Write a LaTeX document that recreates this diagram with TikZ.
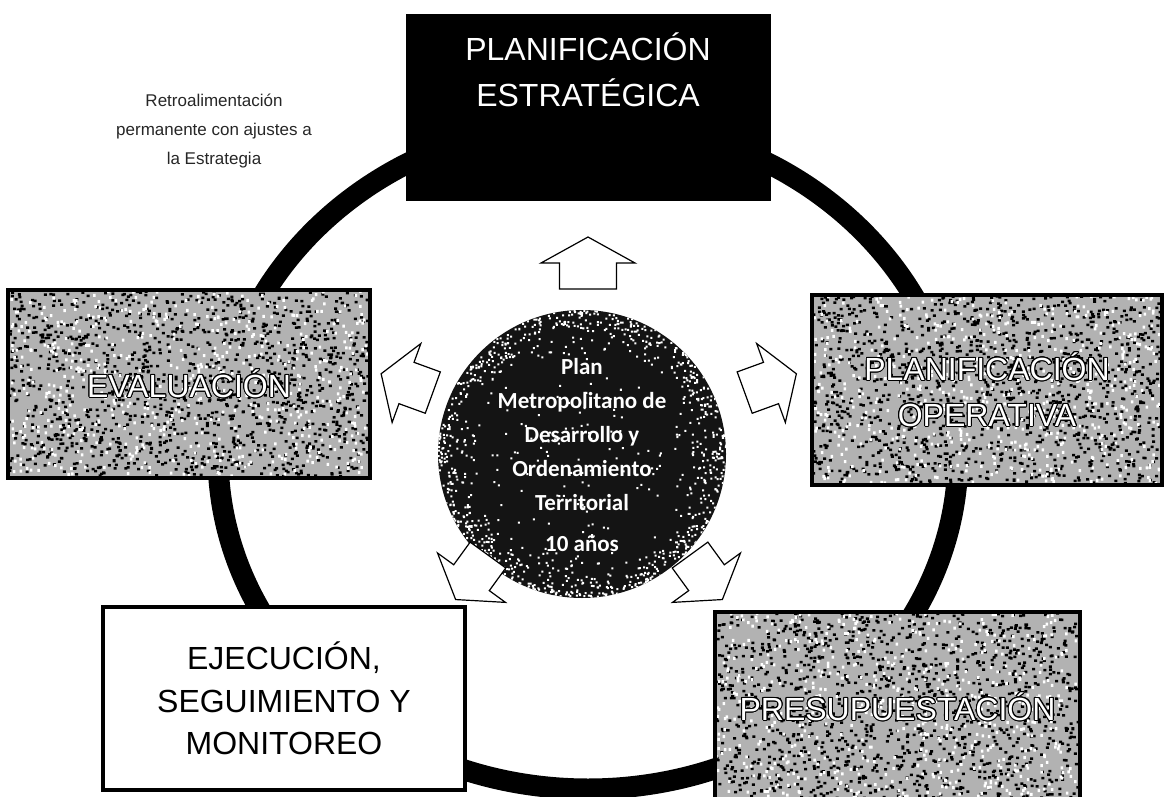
\documentclass[tikz,border=0pt]{standalone}
\usepackage{fontspec}
\setmainfont{Liberation Sans}
\newfontfamily\calibri{Carlito}
\usepackage{contour}
\contourlength{1pt}
% grainy fill: x, y (image top-left), width, height, number of dark specks, number of light specks
\newcommand{\boxgrain}[6]{%
  \fill[black!30] (#1,-#2) rectangle ++(#3,-#4);
  \fill[black] \foreach \k in {1,...,#5} {({#1+rnd*(#3-3)},{-#2-rnd*(#4-3)}) rectangle ++(3,-2.5)};
  \fill[white] \foreach \k in {1,...,#6} {({#1+rnd*(#3-3)},{-#2-rnd*(#4-3)}) rectangle ++(2.5,-3)};
}
\begin{document}
\begin{tikzpicture}[x=1pt,y=1pt,
  ring/.style={line width=21pt, draw=black},
  texbox/.style={draw=black, line width=4.5pt, inner sep=0pt},
  plainbox/.style={draw=black, line width=4.5pt, fill=white, inner sep=0pt},
  darkbox/.style={draw=black, line width=2pt, fill=black, inner sep=0pt},
  boxtext/.style={font=\fontsize{32}{46}\selectfont, align=center},
  outltext/.style={boxtext, text=white},
  arrowstyle/.style={draw=black, line width=1.2pt, fill=white, line join=miter},
  bigarrow/.pic={\draw[arrowstyle] (-26,-28.5) -- (0,-28.5) -- (0,-47) -- (26,0) -- (0,47) -- (0,28.5) -- (-26,28.5) -- cycle;},
  sidearrow/.pic={\draw[arrowstyle] (-28,-22) -- (0,-22) -- (0,-42) -- (27,0) -- (0,42) -- (0,22) -- (-28,22) -- cycle;},
  notetext/.style={font=\fontsize{17}{29}\selectfont, align=center, text=black!85}
]
\pgfmathsetseed{4711}
\useasboundingbox (0,0) rectangle (1165,-797);
% ring
\draw[ring] (588,-455) ellipse [x radius=370, y radius=334];
% top box
\node[darkbox, minimum width=363, minimum height=185] (pe) at (588.5,-107.5) {};
\node[outltext, text=white] (petext) at (588,-70) {PLANIFICACIÓN\\ESTRATÉGICA};
% textured boxes
\boxgrain{8}{290}{362}{188}{1300}{600}
\node[texbox, minimum width=362, minimum height=188, boxtext] (ev) at (189,-384) {\textcolor{white}{\contour{black}{EVALUACIÓN}}};
\boxgrain{812}{295}{350}{190}{1300}{600}
\node[texbox, minimum width=350, minimum height=190, boxtext] (po) at (987,-390) {\textcolor{white}{\contour{black}{PLANIFICACIÓN}}\\\textcolor{white}{\contour{black}{OPERATIVA}}};
\boxgrain{715}{612}{365}{190}{1300}{600}
\node[texbox, minimum width=365, minimum height=190, boxtext] (pr) at (897.5,-707) {\textcolor{white}{\contour{black}{PRESUPUESTACIÓN}}};
\node[plainbox, minimum width=362, minimum height=183, font=\fontsize{32}{42.5}\selectfont, align=center] (ej) at (284,-698.5) {EJECUCIÓN,\\SEGUIMIENTO Y\\MONITOREO};
% note
\node[notetext] (note) at (214,-131) {Retroalimentación\\permanente con ajustes a\\la Estrategia};
% center
\node[circle, fill=black!92, minimum size=288, inner sep=0pt] (plan) at (582,-454) {};
\begin{scope}
  \clip (582,-454) circle (144);
  \begin{scope}[shift={(582,-454)}]
    \fill[white] \foreach \k in {1,...,900} {({rnd*360}:{145-50*rnd*rnd}) rectangle ++(2,-2)};
    \fill[white] \foreach \k in {1,...,150} {({rnd*360}:{140*rnd}) rectangle ++(2,-2)};
  \end{scope}
\end{scope}
\node[font=\calibri\bfseries\fontsize{23}{34}\selectfont, text=white, align=center] (plantext) at (582,-455) {Plan\\Metropolitano de\\Desarrollo y\\Ordenamiento\\Territorial\\[7pt]10 años};
% arrows
\pic[rotate=90] at (588,-263) {bigarrow};
\pic[rotate=160] at (406.5,-383) {sidearrow};
\pic[rotate=20] at (771,-383) {sidearrow};
\pic[rotate=234] at (471.5,-577.7) {sidearrow};
\pic[rotate=306] at (706.5,-577.7) {sidearrow};
\end{tikzpicture}
\end{document}
